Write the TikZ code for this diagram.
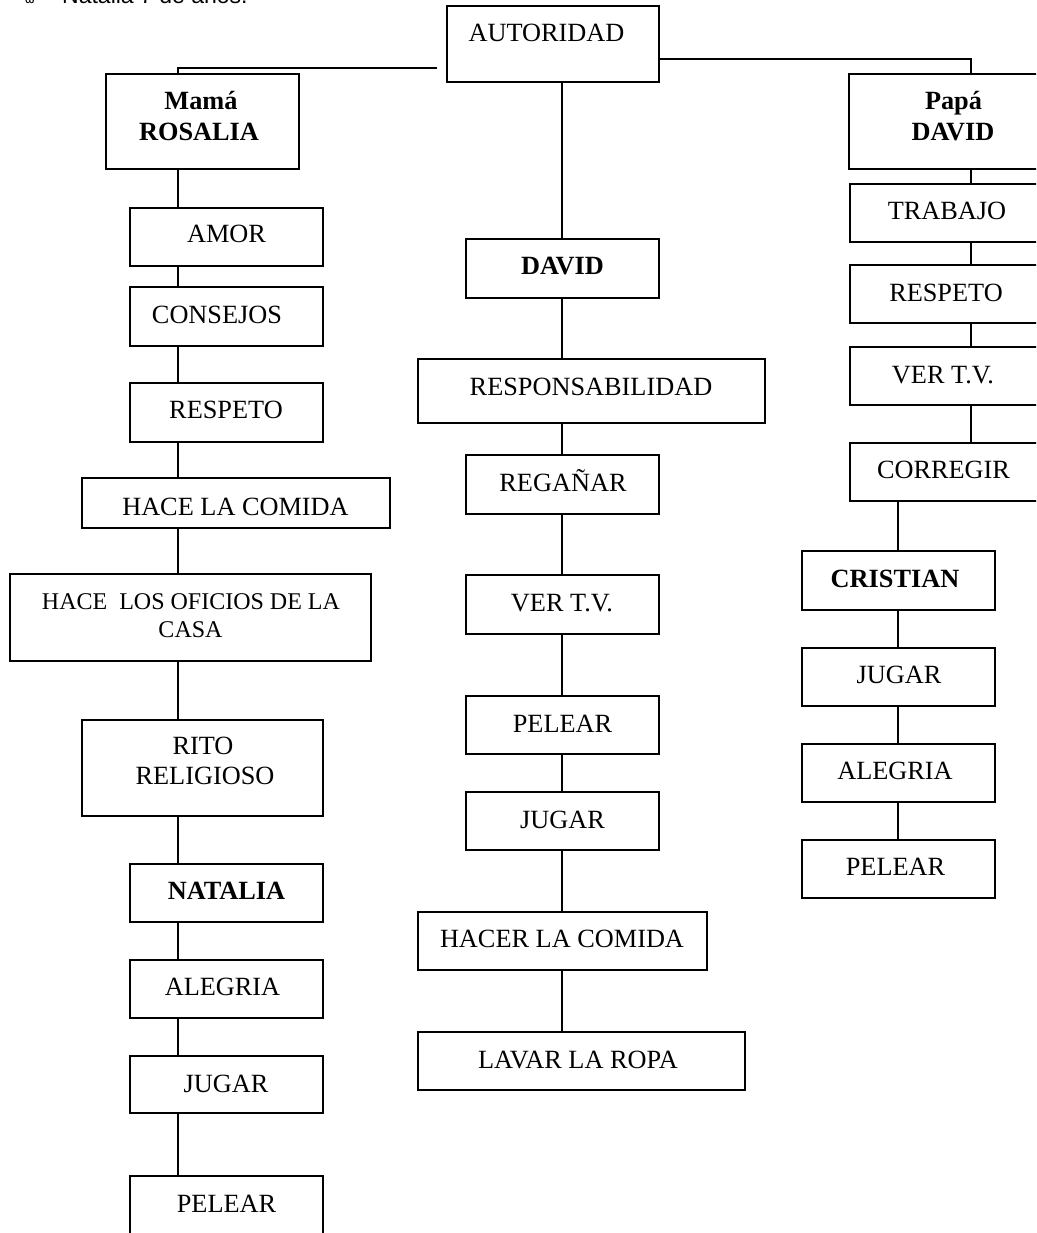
\documentclass[tikz,border=0pt]{standalone}
\usepackage{fontspec}
\setmainfont{Liberation Serif}
\newfontfamily\sansf{Liberation Sans}
\newfontfamily\dejav{DejaVu Sans}
\tikzset{
  box/.style={draw, line width=2pt, inner sep=0pt, outer sep=0pt},
  conn/.style={line width=1.3pt},
  txt/.style={inner sep=0pt, anchor=base, font=\fontsize{26.3}{30}\selectfont},
  btxt/.style={inner sep=0pt, anchor=base, font=\fontsize{26.3}{30}\selectfont\bfseries},
  stxt/.style={inner sep=0pt, anchor=base, font=\fontsize{24}{28}\selectfont},
}
\newcommand\bx[5]{\node[box, minimum width={#4pt-#2pt}, minimum height={#5pt-#3pt}] (#1) at ({(#2+#4)/2},{(#3+#5)/2}) {};}
\newcommand\tx[5]{\node[#2] (#1) at (#3,#4) {#5};}
\begin{document}
\begin{tikzpicture}[x=1pt,y=-1pt]
\useasboundingbox (0,0) rectangle (1036,1233);
\clip (0,0) rectangle (1036,1233);
\fill[white] (0,0) rectangle (1036,1233);
% header text (cut at top)
\node[font=\dejav\fontsize{12}{14}\selectfont, anchor=base, inner sep=0pt] (bul) at (30,4) {ω};
\node[font=\sansf\fontsize{23}{26}\selectfont, anchor=base west, inner sep=0pt] (nat) at (62,4) {Natalia 7 de años.};
% boxes
\bx{aut}{447}{6}{659}{82}
\bx{mama}{106}{74}{299}{169}
\bx{papa}{849}{74}{1045}{169}
% left column
\bx{amor}{130}{208}{323}{266}
\bx{cons}{130}{287}{323}{346}
\bx{resp}{130}{383}{323}{442}
\bx{hcom}{82}{478}{390}{528}
\bx{ofic}{10}{574}{371}{661}
\bx{rito}{82}{720}{323}{816}
\bx{nata}{130}{864}{323}{922}
\bx{aleg}{130}{960}{323}{1018}
\bx{jugL}{130}{1056}{323}{1113}
\bx{pelL}{130}{1176}{323}{1250}
% middle column
\bx{davc}{466}{239}{659}{298}
\bx{respon}{418}{359}{765}{423}
\bx{rega}{466}{455}{659}{514}
\bx{verM}{466}{575}{659}{634}
\bx{pelM}{466}{696}{659}{754}
\bx{jugM}{466}{792}{659}{850}
\bx{hacer}{418}{912}{707}{970}
\bx{lavar}{418}{1032}{745}{1090}
% right column
\bx{trab}{850}{184}{1045}{242}
\bx{respR}{850}{265}{1045}{323}
\bx{verR}{850}{347}{1045}{405}
\bx{corr}{850}{443}{1045}{501}
\bx{cris}{802}{551}{995}{610}
\bx{jugR}{802}{648}{995}{706}
\bx{alegR}{802}{744}{995}{802}
\bx{pelR}{802}{840}{995}{898}
% texts
\tx{aut-t}{txt}{546.5}{42}{AUTORIDAD}
\tx{mama-t1}{btxt}{201}{110}{Mamá}
\tx{mama-t2}{btxt}{199}{141}{ROSALIA}
\tx{papa-t1}{btxt}{953.5}{110}{Papá}
\tx{papa-t2}{btxt}{953}{141}{DAVID}
\tx{amor-t}{txt}{226.5}{243}{AMOR}
\tx{cons-t}{txt}{217}{323}{CONSEJOS}
\tx{resp-t}{txt}{226}{418}{RESPETO}
\tx{hcom-t}{txt}{235.5}{515}{HACE LA COMIDA}
\tx{ofic-t1}{stxt}{191}{609}{HACE\ \ LOS OFICIOS DE LA}
\tx{ofic-t2}{stxt}{190.5}{637}{CASA}
\tx{rito-t1}{txt}{203}{754}{RITO}
\tx{rito-t2}{txt}{205}{784}{RELIGIOSO}
\tx{nata-t}{btxt}{226.5}{899}{NATALIA}
\tx{aleg-t}{txt}{222.5}{995}{ALEGRIA}
\tx{jugL-t}{txt}{226}{1092}{JUGAR}
\tx{pelL-t}{txt}{226.5}{1212}{PELEAR}
\tx{davc-t}{btxt}{562.5}{274}{DAVID}
\tx{respon-t}{txt}{591}{395}{RESPONSABILIDAD}
\tx{rega-t}{txt}{563}{491}{REGAÑAR}
\tx{verM-t}{txt}{562}{611}{VER T.V.}
\tx{pelM-t}{txt}{562.5}{732}{PELEAR}
\tx{jugM-t}{txt}{562.5}{828}{JUGAR}
\tx{hacer-t}{txt}{562}{947}{HACER LA COMIDA}
\tx{lavar-t}{txt}{578}{1068}{LAVAR LA ROPA}
\tx{trab-t}{txt}{947}{220}{TRABAJO}
\tx{respR-t}{txt}{946}{301}{RESPETO}
\tx{verR-t}{txt}{943}{383}{VER T.V.}
\tx{corr-t}{txt}{943.5}{478}{CORREGIR}
\tx{cris-t}{btxt}{895}{587}{CRISTIAN}
\tx{jugR-t}{txt}{899}{683}{JUGAR}
\tx{alegR-t}{txt}{895}{779}{ALEGRIA}
\tx{pelR-t}{txt}{895.5}{875}{PELEAR}
% connector guides
\coordinate (L) at (178,0);
\coordinate (M) at (562,0);
\coordinate (R) at (971,0);
\coordinate (R2) at (898,0);
\coordinate (autL) at (437,68);
\coordinate (autR) at (659,59);
\draw[conn] (autL) -| (mama.north -| L);
\draw[conn] (autR) -| (papa.north -| R);
\draw[conn] (aut.south -| M) -- (davc.north -| M);
\foreach \a/\b in {mama/amor,amor/cons,cons/resp,resp/hcom,hcom/ofic,ofic/rito,rito/nata,nata/aleg,aleg/jugL,jugL/pelL}
  \draw[conn] (\a.south -| L) -- (\b.north -| L);
\foreach \a/\b in {davc/respon,respon/rega,rega/verM,verM/pelM,pelM/jugM,jugM/hacer,hacer/lavar}
  \draw[conn] (\a.south -| M) -- (\b.north -| M);
\foreach \a/\b in {papa/trab,trab/respR,respR/verR,verR/corr}
  \draw[conn] (\a.south -| R) -- (\b.north -| R);
\foreach \a/\b in {corr/cris,cris/jugR,jugR/alegR,alegR/pelR}
  \draw[conn] (\a.south -| R2) -- (\b.north -| R2);
\end{tikzpicture}
\end{document}
